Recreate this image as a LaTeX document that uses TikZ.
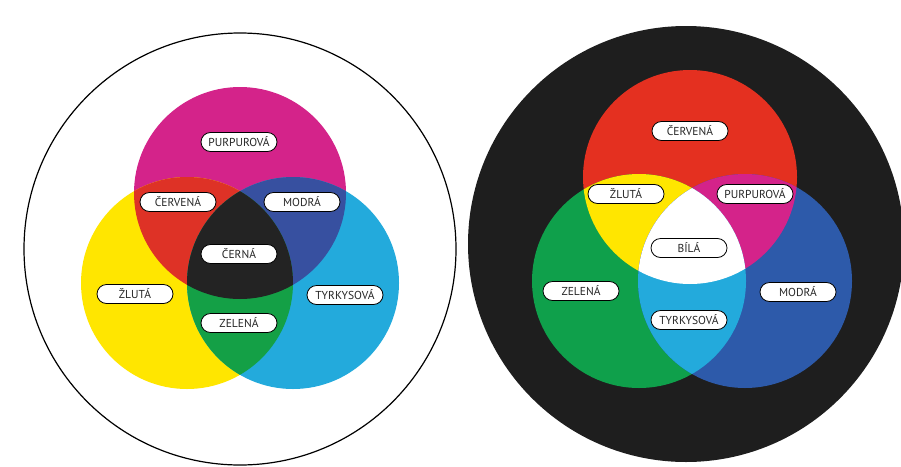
\documentclass[tikz,border=0pt]{standalone}
\usepackage{fontspec}
\setmainfont{PT Sans}
\definecolor{cMag}{RGB}{212,35,138}
\definecolor{cRed}{RGB}{222,50,38}
\definecolor{cBlu}{RGB}{55,80,160}
\definecolor{cBlk}{RGB}{35,35,35}
\definecolor{cYel}{RGB}{255,230,0}
\definecolor{cCya}{RGB}{35,170,220}
\definecolor{cGrn}{RGB}{20,160,70}
\definecolor{rRed}{RGB}{228,48,32}
\definecolor{rGrn}{RGB}{15,160,75}
\definecolor{rBlu}{RGB}{45,90,170}
\definecolor{rBg}{RGB}{30,30,30}
\tikzset{
  pill/.style={draw=black, line width=0.8pt, fill=white, rounded corners=9.5pt,
    minimum width=76pt, minimum height=19pt, inner sep=0pt,
    font=\fontsize{11.5}{12}\selectfont, text=black!85},
}
\begin{document}
\begin{tikzpicture}[x=1pt,y=-1pt]
\useasboundingbox (0,0) rectangle (901,466);
\fill[white] (0,0) rectangle (901,466);
% ---------- left panel (subtractive) ----------
\draw[line width=1.2pt] (240,249) circle (216);
\def\rr{106}
\coordinate (M) at (240,193);
\coordinate (Y) at (187,283);
\coordinate (C) at (293,283);
\fill[cMag] (M) circle (\rr);
\fill[cYel] (Y) circle (\rr);
\fill[cCya] (C) circle (\rr);
\begin{scope}\clip (M) circle (\rr); \fill[cRed] (Y) circle (\rr); \end{scope}
\begin{scope}\clip (M) circle (\rr); \fill[cBlu] (C) circle (\rr); \end{scope}
\begin{scope}\clip (Y) circle (\rr); \fill[cGrn] (C) circle (\rr); \end{scope}
\begin{scope}\clip (M) circle (\rr); \clip (Y) circle (\rr); \fill[cBlk] (C) circle (\rr); \end{scope}
\node[pill] (lpur) at (239,142) {PURPUROVÁ};
\node[pill] (lcer) at (178,202) {ČERVENÁ};
\node[pill] (lmod) at (302,202) {MODRÁ};
\node[pill] (lcrn) at (239,254) {ČERNÁ};
\node[pill] (lzlu) at (135,294) {ŽLUTÁ};
\node[pill] (ltyr) at (345,295) {TYRKYSOVÁ};
\node[pill] (lzel) at (239,323) {ZELENÁ};
% ---------- right panel (additive) ----------
\fill[rBg] (686,244) circle (218);
\coordinate (R) at (690,177);
\coordinate (G) at (639,281);
\coordinate (B) at (745,281);
\def\rs{107}
\fill[rRed] (R) circle (\rs);
\fill[rGrn] (G) circle (\rs);
\fill[rBlu] (B) circle (\rs);
\begin{scope}\clip (R) circle (\rs); \fill[cYel] (G) circle (\rs); \end{scope}
\begin{scope}\clip (R) circle (\rs); \fill[cMag] (B) circle (\rs); \end{scope}
\begin{scope}\clip (G) circle (\rs); \fill[cCya] (B) circle (\rs); \end{scope}
\begin{scope}\clip (R) circle (\rs); \clip (G) circle (\rs); \fill[white] (B) circle (\rs); \end{scope}
\node[pill] (rcer) at (690,131) {ČERVENÁ};
\node[pill] (rzlu) at (626,194) {ŽLUTÁ};
\node[pill] (rpur) at (755,194) {PURPUROVÁ};
\node[pill] (rbil) at (689,248) {BÍLÁ};
\node[pill] (rzel) at (581,291) {ZELENÁ};
\node[pill] (rmod) at (798,292) {MODRÁ};
\node[pill] (rtyr) at (689,320) {TYRKYSOVÁ};
\end{tikzpicture}
\end{document}
